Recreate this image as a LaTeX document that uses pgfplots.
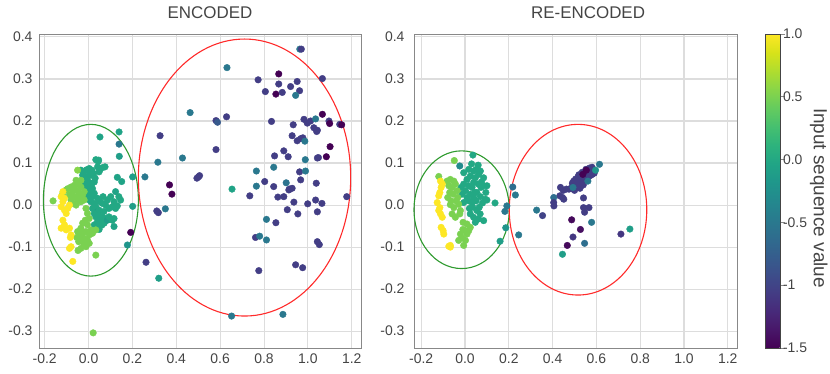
\documentclass[border=0pt]{standalone}
\usepackage{fontspec}
\setmainfont{Liberation Sans}
\usepackage{pgfplots}
\pgfplotsset{compat=1.18}
\definecolor{txt}{HTML}{444444}
\definecolor{gridc}{HTML}{DDDDDD}
\definecolor{framec}{HTML}{888888}
\definecolor{ellred}{HTML}{FF2A2A}
\definecolor{ellgreen}{HTML}{2E9A2E}
\pgfplotsset{
  panel/.style={
    scale only axis, height=314bp,
    ymin=-0.34, ymax=0.407, xmax=1.242,
    xtick={-0.2,0,...,1.2}, ytick={-0.3,-0.2,...,0.4},
    grid=major, major grid style={gridc, line width=1.1bp},
    major tick length=0pt,
    axis line style={framec, line width=0.9bp},
    tick label style={font=\fontsize{14}{14}\selectfont, text=txt},
    xticklabel style={yshift=-2bp},
    /pgf/number format/.cd, assume math mode=true, fixed, fixed zerofill, precision=1, /pgfplots/.cd,
    title style={font=\fontsize{17}{17}\selectfont, text=txt, anchor=center, yshift=15bp},
    colormap/viridis, point meta min=-1.5, point meta max=1.0,
    clip=false,
  },
  pts/.style={scatter, only marks, mark=*, mark size=3.3bp,
    scatter src=explicit,
    scatter/use mapped color={draw=mapped color, fill=mapped color}},
}
\begin{document}
\begin{tikzpicture}
\useasboundingbox (0,0) rectangle (830bp,374bp);
% ---------------- ENCODED ----------------
\begin{axis}[panel, at={(39bp,26bp)}, anchor=south west, width=322bp,
  xmin=-0.226, yticklabel style={xshift=-3bp},
  title={ENCODED}, title style={at={(axis description cs:0.531,1)}}]
\addplot[pts] table[meta=c] {
x y c
0.963 0.371 -0.5
0.970 0.371 -1.05
0.631 0.327 -0.5
0.867 0.312 -1.5
0.773 0.298 -1.05
0.867 0.288 -1.05
0.921 0.282 -1.05
0.951 0.294 -1.05
0.962 0.272 -1.05
0.944 0.261 -0.5
0.806 0.270 -1.05
0.854 0.264 -1.5
0.883 0.268 -1.05
1.066 0.301 -1.05
0.463 0.220 -0.5
0.581 0.201 -1.05
0.588 0.197 -0.8
0.629 0.210 -1.05
0.834 0.199 -1.05
0.933 0.191 -1.05
0.982 0.204 -1.05
0.997 0.195 -1.05
1.012 0.200 -1.05
1.035 0.205 -0.5
1.066 0.216 -1.5
1.096 0.200 -1.05
1.099 0.194 -1.5
1.145 0.192 -1.05
1.154 0.191 -1.5
1.027 0.184 -1.05
1.040 0.175 -1.05
1.043 0.178 -1.05
0.326 0.165 -1.05
0.928 0.165 -1.05
0.951 0.153 -1.05
0.967 0.158 -1.05
0.977 0.160 -1.05
0.986 0.152 -0.5
1.101 0.139 -1.5
1.084 0.115 -1.5
1.043 0.112 -1.05
1.048 0.113 -1.05
0.581 0.132 -1.05
0.890 0.129 -1.05
0.910 0.115 -1.05
0.848 0.117 -1.05
0.988 0.108 -0.5
0.428 0.112 -0.5
0.316 0.102 -0.5
0.844 0.090 -0.5
0.765 0.081 -0.5
0.962 0.079 -1.05
0.989 0.081 -0.5
1.038 0.052 -1.05
0.967 0.060 -1.05
0.494 0.064 -1.05
0.501 0.067 -1.05
0.506 0.070 -1.05
0.257 0.067 -0.5
0.369 0.048 -1.5
0.803 0.056 -1.05
0.901 0.053 -0.55
0.765 0.045 -0.5
0.844 0.044 -1.05
0.654 0.038 -0.05
0.928 0.040 -1.05
0.916 0.038 -1.05
0.380 0.026 -1.5
0.735 0.022 -1.05
0.863 0.019 -1.05
0.890 0.020 -1.05
0.913 0.036 -1.05
1.177 0.020 -1.05
0.936 0.007 -1.05
0.999 0.003 -1.05
1.035 0.012 -1.05
1.064 0.004 -1.05
0.906 -0.011 -1.05
0.954 -0.021 -1.05
1.043 -0.016 -1.05
0.311 -0.014 -1.05
0.318 -0.018 -1.05
0.350 -0.009 -0.5
0.811 -0.034 -0.5
0.854 -0.042 -1.05
0.761 -0.077 -1.05
0.780 -0.074 -0.5
0.811 -0.083 -0.5
1.043 -0.087 -1.05
1.052 -0.094 -1.05
0.262 -0.136 -1.05
0.776 -0.156 -1.05
0.944 -0.142 -1.05
0.976 -0.149 -1.05
0.320 -0.174 -0.1
0.652 -0.264 -0.5
0.886 -0.260 -0.5
0.192 -0.065 -1.5
0.177 -0.095 -0.2
0.033 -0.119 0.5
0.021 -0.304 0.5
0.201 -0.003 -0.1
0.151 0.056 -0.05
0.139 0.174 -0.05
0.052 0.162 -0.05
0.139 0.145 -0.5
0.140 0.116 -0.1
0.046 0.107 0.0
0.201 0.067 -0.1
-0.035 0.083 0.0
-0.020 0.079 0.0
-0.009 0.084 0.0
0.003 0.087 0.0
0.015 0.083 0.0
-0.027 0.071 0.0
-0.005 0.067 0.0
0.011 0.071 0.0
0.023 0.075 0.0
0.033 0.108 0.0
0.044 0.104 0.0
0.041 0.091 0.0
0.051 0.084 0.0
0.063 0.089 0.0
0.075 0.091 0.0
0.048 0.079 0.0
0.000 0.055 0.0
0.015 0.051 0.0
0.026 0.055 0.0
0.003 0.043 0.0
0.018 0.039 0.0
0.011 0.032 0.0
0.026 0.028 0.0
-0.005 0.024 0.0
0.018 0.020 0.0
-0.009 0.059 0.0
-0.020 0.047 0.0
-0.012 0.036 0.0
0.007 0.076 0.0
0.030 0.064 0.0
0.005 0.012 0.0
0.011 0.008 0.0
0.026 0.004 0.0
0.033 -0.004 0.0
0.018 -0.008 0.0
0.041 -0.016 -0.1
0.026 -0.020 0.0
0.048 -0.024 0.0
0.063 -0.028 0.0
0.078 -0.032 0.0
0.056 -0.036 0.0
0.041 -0.039 0.0
0.071 -0.043 0.0
0.086 -0.036 -0.1
0.093 -0.028 0.0
0.033 -0.028 0.0
0.048 -0.012 0.0
0.063 0.004 0.0
0.078 0.000 0.0
0.093 -0.008 0.0
0.108 -0.004 0.0
0.123 -0.008 0.0
0.131 -0.002 0.0
0.116 0.008 0.0
0.138 0.020 0.0
0.146 0.012 0.0
0.101 0.020 0.0
0.086 0.012 0.0
0.066 0.020 0.0
0.051 0.008 0.0
0.041 0.016 0.0
0.116 -0.032 0.0
0.108 -0.036 0.0
0.041 -0.051 0.0
0.048 -0.058 0.0
0.026 -0.047 0.0
0.060 -0.048 0.0
0.070 -0.015 0.0
0.123 0.032 -0.05
0.131 0.066 -0.05
0.116 -0.051 -0.05
-0.095 0.039 0.5
-0.080 0.043 0.5
-0.065 0.047 0.5
-0.050 0.051 0.5
-0.042 0.055 0.5
-0.035 0.043 0.5
-0.057 0.036 0.5
-0.072 0.032 0.5
-0.087 0.024 0.5
-0.065 0.020 0.5
-0.042 0.020 0.5
-0.027 0.024 0.5
-0.050 0.012 0.5
-0.035 0.008 0.5
-0.080 0.012 0.5
-0.102 0.036 0.5
-0.117 0.028 0.5
-0.072 0.004 0.5
-0.057 0.000 0.5
-0.020 0.012 0.5
-0.020 0.032 0.5
-0.035 0.059 0.5
-0.057 0.059 0.5
-0.045 0.030 0.5
-0.050 0.083 0.55
-0.162 0.010 0.5
-0.012 -0.008 0.5
-0.005 -0.020 0.5
0.003 -0.032 0.5
-0.015 -0.036 0.5
-0.027 -0.043 0.5
-0.005 -0.047 0.5
0.011 -0.059 0.5
-0.012 -0.063 0.5
-0.027 -0.067 0.5
-0.042 -0.075 0.5
-0.020 -0.079 0.5
0.003 -0.071 0.5
0.018 -0.067 0.5
0.033 -0.059 0.5
-0.035 -0.055 0.5
-0.050 -0.063 0.5
-0.005 -0.083 0.5
-0.020 -0.095 0.5
-0.035 -0.103 0.5
-0.012 -0.099 0.5
0.003 -0.091 0.5
-0.027 -0.087 0.5
-0.054 -0.077 0.5
-0.045 -0.087 0.5
-0.048 -0.108 0.5
-0.117 0.032 1.0
-0.125 0.020 1.0
-0.110 0.016 1.0
-0.117 0.008 1.0
-0.125 -0.004 1.0
-0.110 -0.012 1.0
-0.102 -0.020 1.0
-0.095 -0.008 1.0
-0.087 0.000 1.0
-0.117 -0.036 1.0
-0.110 -0.047 1.0
-0.125 -0.055 1.0
-0.102 -0.059 1.0
-0.087 -0.055 1.0
-0.080 -0.071 1.0
-0.083 -0.077 1.0
-0.080 -0.099 1.0
-0.087 -0.103 1.0
-0.072 -0.134 1.0
};
\draw[ellgreen, line width=1.1bp] (axis cs:0.0105,0.0115) ellipse [x radius=0.2165, y radius=0.1805];
\draw[ellred, line width=1.1bp] (axis cs:0.711,0.0655) ellipse [x radius=0.484, y radius=0.3295];
\end{axis}
% ---------------- RE-ENCODED ----------------
\begin{axis}[panel, at={(414bp,26bp)}, anchor=south west, width=323bp,
  xmin=-0.233, yticklabel style={xshift=-6bp},
  title={RE-ENCODED}, title style={at={(axis description cs:0.539,1)}},
  colorbar,
  colorbar style={at={(parent axis.north east)}, anchor=north west, xshift=20bp,
    scale only axis, width=15bp, height=314bp,
    ytick={-1.5,-1,-0.5,0,0.5,1}, yticklabels={-1.5,-1,-0.5,0.0,0.5,1.0},
    yticklabel pos=right, ytick pos=right, tick align=outside,
    major tick length=4bp, tick style={framec, line width=0.8bp},
    axis line style={txt, line width=0.8bp},
    yticklabel style={font=\fontsize{14}{14}\selectfont, text=txt, xshift=-5bp},
  }]
\addplot[pts] table[meta=c] {
x y c
0.218 0.043 -0.6
0.230 0.024 -0.5
0.245 -0.071 -0.5
0.191 -0.002 -0.5
0.182 -0.015 -0.5
0.186 -0.054 -0.2
0.160 -0.086 -0.1
0.327 -0.012 -0.5
0.354 -0.025 -1.0
0.436 0.042 -1.05
0.448 0.035 -1.05
0.463 0.038 -1.05
0.475 0.038 -1.05
0.433 0.022 -1.05
0.445 0.018 -1.05
0.451 0.014 -1.05
0.405 0.018 -0.6
0.405 0.006 -1.05
0.406 -0.002 -1.05
0.541 0.017 -1.05
0.541 -0.006 -1.05
0.546 -0.017 -1.05
0.566 -0.006 -1.05
0.578 -0.041 -0.5
0.487 -0.035 -1.45
0.527 -0.058 -1.4
0.493 -0.076 -1.1
0.467 -0.096 -1.45
0.546 -0.091 -0.6
0.445 -0.117 -0.1
0.712 -0.069 -1.1
0.753 -0.057 -0.1
0.614 0.097 -0.5
0.493 0.046 -1.05
0.501 0.051 -1.05
0.508 0.054 -1.05
0.516 0.057 -1.05
0.523 0.061 -1.05
0.531 0.065 -1.05
0.538 0.067 -1.05
0.546 0.069 -1.05
0.554 0.073 -1.05
0.561 0.075 -1.05
0.569 0.077 -1.05
0.576 0.081 -1.05
0.584 0.085 -1.05
0.569 0.069 -1.05
0.554 0.065 -1.05
0.538 0.057 -1.05
0.523 0.050 -1.05
0.508 0.046 -1.05
0.501 0.042 -1.05
0.485 0.040 -1.05
0.496 0.057 -1.05
0.516 0.067 -1.05
0.546 0.077 -1.05
0.581 0.073 -1.05
0.587 0.080 -1.05
0.500 0.035 -1.05
0.515 0.045 -1.05
0.530 0.052 -1.05
0.545 0.060 -1.05
0.560 0.066 -1.05
0.575 0.072 -1.05
0.590 0.076 -1.05
0.505 0.062 -1.05
0.520 0.072 -1.05
0.535 0.078 -1.05
0.552 0.085 -1.05
0.568 0.088 -1.05
0.580 0.090 -1.05
0.525 0.040 -1.05
0.540 0.048 -1.05
0.490 0.052 -1.05
0.554 0.083 -1.5
0.538 0.073 -1.5
0.596 0.083 -0.2
0.561 0.057 -0.5
0.493 0.042 -0.5
0.036 0.119 0.0
-0.024 0.093 -0.3
-0.006 0.077 0.0
0.017 0.085 0.0
0.039 0.081 0.0
0.051 0.085 0.0
0.070 0.081 0.0
0.062 0.073 0.0
0.047 0.065 0.0
0.024 0.069 0.0
0.009 0.061 0.0
-0.006 0.050 0.0
0.017 0.046 0.0
0.032 0.042 0.0
0.024 0.026 0.0
0.039 0.018 0.0
0.017 0.010 0.0
0.032 0.006 0.0
0.002 0.034 0.0
0.009 0.018 0.0
0.054 0.030 0.0
0.085 0.046 0.0
0.100 0.046 0.0
0.092 0.014 0.0
0.100 0.012 0.0
0.054 -0.013 0.0
0.062 -0.033 0.0
0.085 -0.037 0.0
0.069 -0.021 0.0
0.051 0.010 0.0
0.073 0.042 0.0
0.085 0.065 0.0
0.039 0.054 0.0
0.024 -0.021 0.0
0.039 -0.029 0.0
0.047 -0.041 0.0
-0.006 0.006 0.0
-0.014 0.026 0.0
-0.018 0.042 0.0
0.075 0.055 0.0
0.060 0.050 0.0
0.045 0.030 0.0
0.070 0.020 0.0
0.080 0.005 0.0
0.065 -0.005 0.0
0.035 -0.005 0.0
0.020 -0.008 0.0
0.060 0.095 0.0
0.030 0.098 0.0
0.095 0.030 0.0
0.137 0.005 0.0
-0.049 0.106 0.5
-0.120 0.068 0.5
-0.082 0.057 0.5
-0.067 0.061 0.5
-0.051 0.057 0.5
-0.074 0.046 0.5
-0.059 0.042 0.5
-0.044 0.050 0.5
-0.070 0.030 0.5
-0.054 0.026 0.5
-0.079 0.018 0.5
-0.064 0.010 0.5
-0.067 0.001 0.5
-0.051 -0.006 0.5
-0.036 0.034 0.5
-0.033 0.018 0.5
-0.029 0.002 0.5
-0.021 -0.013 0.5
-0.024 -0.021 0.5
-0.059 -0.021 0.5
-0.044 -0.029 0.5
-0.009 -0.041 0.5
0.009 -0.045 0.5
0.002 -0.061 0.5
-0.021 -0.069 0.5
-0.014 -0.078 0.5
0.002 -0.084 0.5
-0.029 -0.084 0.5
-0.006 -0.096 0.5
0.017 -0.061 0.5
0.024 -0.053 0.5
0.009 -0.069 0.5
-0.040 0.010 0.5
-0.010 -0.058 0.5
-0.112 0.057 1.0
-0.104 0.050 1.0
-0.109 0.042 1.0
-0.115 0.030 1.0
-0.120 0.022 1.0
-0.127 0.006 1.0
-0.115 -0.006 1.0
-0.120 -0.013 1.0
-0.112 -0.021 1.0
-0.104 -0.029 1.0
-0.109 -0.053 1.0
-0.100 -0.061 1.0
-0.097 -0.069 1.0
-0.074 -0.098 1.0
-0.067 -0.100 1.0
-0.067 -0.096 1.0
};
\draw[ellgreen, line width=1.1bp] (axis cs:-0.0155,-0.011) ellipse [x radius=0.2175, y radius=0.140];
\draw[ellred, line width=1.1bp] (axis cs:0.516,-0.011) ellipse [x radius=0.314, y radius=0.203];
\end{axis}
\node[rotate=-90, font=\fontsize{19}{19}\selectfont, text=txt] at (818.8bp,176bp) {Input sequence value};
\end{tikzpicture}
\end{document}
